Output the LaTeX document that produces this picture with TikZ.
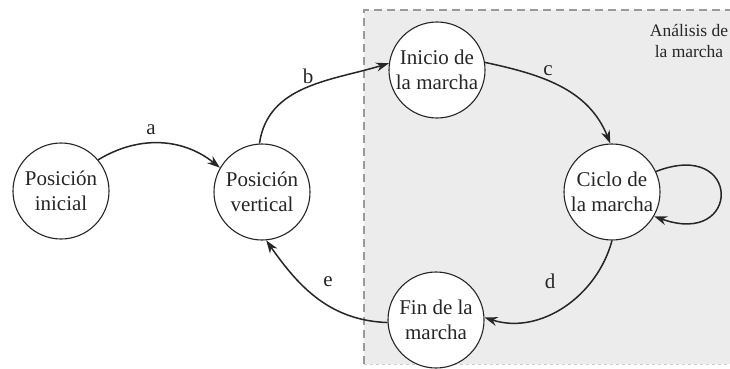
\documentclass[tikz,border=0pt]{standalone}
\usepackage{fontspec}
\setmainfont{Liberation Serif}
\usetikzlibrary{arrows.meta}
\definecolor{inkc}{HTML}{262626}
\definecolor{zonefill}{HTML}{ECECEC}
\definecolor{zoneline}{HTML}{9A9A9A}
\tikzset{
  state/.style={circle, draw=inkc, line width=1.1pt, fill=white, minimum size=96pt,
    inner sep=0pt, align=center, text=inkc,
    font=\fontsize{21}{24.5}\selectfont},
  trans/.style={draw=inkc, line width=1.5pt,
    -{Stealth[length=13pt,width=9pt]}},
  tlabel/.style={text=inkc, font=\fontsize{21}{24}\selectfont, inner sep=0pt},
}
\begin{document}
\begin{tikzpicture}[x=1pt,y=-1pt]
  \useasboundingbox (0,0) rectangle (730,369);
  \fill[white] (0,0) rectangle (730,369);
  % gait analysis zone
  \fill[zonefill] (364,10) rectangle (740,364);
  \draw[zoneline, line width=1.3pt, dash pattern=on 8pt off 5pt] (364,364) -- (364,10) -- (740,10);
  \draw[zoneline!50, line width=0.8pt, dash pattern=on 3pt off 3pt] (364,364) -- (740,364);
  \node[text=inkc, align=center, font=\fontsize{17.5}{21}\selectfont] (zt) at (689,41) {Análisis de\\la marcha};

  % states
  \node[state] (pi) at (61,191) {Posición\\inicial};
  \node[state] (pv) at (262,192) {Posición\\vertical};
  \node[state] (im) at (437,70) {Inicio de\\la marcha};
  \node[state] (cm) at (612,192) {Ciclo de\\la marcha};
  \node[state] (fm) at (436,320) {Fin de la\\marcha};

  % transitions
  \draw[trans] (pi.40) to[bend left=35] (pv.150);
  \draw[trans] (pv.93) to[out=82, in=197] (im.172);
  \draw[trans] (im.9) to[out=-12, in=112] (cm.92);
  \draw[trans] (cm.-90) to[out=-105, in=-18] (fm.3);
  \draw[trans] (fm.183) to[out=178, in=-55] (pv.-85);
  \draw[trans] (cm.25) .. controls (742,138) and (742,248) .. (cm.-30);

  % transition labels
  \node[tlabel] (la) at (151,130) {a};
  \node[tlabel] (lb) at (308,76) {b};
  \node[tlabel] (lc) at (548,71) {c};
  \node[tlabel] (ld) at (550,281) {d};
  \node[tlabel] (le) at (328,282) {e};
\end{tikzpicture}
\end{document}
